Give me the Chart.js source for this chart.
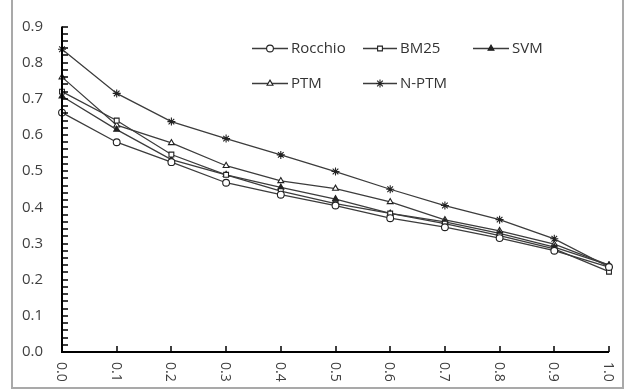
<!DOCTYPE html>
<html>
<head>
<meta charset="utf-8">
<script src="https://cdn.jsdelivr.net/npm/chart.js@4/dist/chart.umd.min.js"></script>
<style>
  html, body { margin: 0; padding: 0; background: #fff; }
  #wrap { position: relative; width: 638px; height: 391px; }
</style>
</head>
<body>
<div id="wrap"><canvas id="prChart" width="638" height="391"></canvas></div>
<script>
// recall levels on the x axis
const recallLabels = ['0.0', '0.1', '0.2', '0.3', '0.4', '0.5', '0.6', '0.7', '0.8', '0.9', '1.0'];

// precision per model
const rocchio = [0.662, 0.580, 0.525, 0.468, 0.435, 0.405, 0.370, 0.345, 0.315, 0.280, 0.235];
const bm25    = [0.720, 0.640, 0.546, 0.490, 0.445, 0.410, 0.383, 0.355, 0.322, 0.285, 0.222];
const svm     = [0.707, 0.615, 0.532, 0.490, 0.455, 0.423, 0.383, 0.360, 0.328, 0.290, 0.240];
const ptm     = [0.760, 0.627, 0.578, 0.515, 0.473, 0.452, 0.415, 0.365, 0.335, 0.298, 0.240];
const nptm    = [0.837, 0.715, 0.637, 0.590, 0.545, 0.499, 0.450, 0.405, 0.366, 0.313, 0.235];

const yMin = 0, yMax = 0.9, yStep = 0.1, yMinorStep = 0.02;

const lineColor = '#3c3c3c';

function series(label, data, style, filled) {
    return {
        label: label,
        data: data,
        borderColor: lineColor,
        borderWidth: 1.3,
        tension: 0,
        fill: false,
        pointStyle: style,
        pointRadius: style === 'star' ? 4 : 3.4,
        pointBorderColor: '#222',
        pointBorderWidth: 1.1,
        pointBackgroundColor: filled ? '#222' : '#fff'
    };
}

// legend slots: [x of line start, x of line end, text x, y]
const legendSlots = [
    [252, 288, 291, 48],
    [363, 397, 400, 48],
    [473, 509, 512, 48],
    [252, 288, 291, 83],
    [363, 397, 400, 83]
];

const decorPlugin = {
    id: 'decor',
    beforeDraw(chart) {
        const ctx = chart.ctx;
        ctx.save();
        ctx.strokeStyle = '#a9a9a9';
        ctx.lineWidth = 2;
        ctx.strokeRect(12, -6, 611, 394);
        ctx.restore();
    },
    afterDraw(chart) {
        const ctx = chart.ctx;
        const xs = chart.scales.x;
        const ys = chart.scales.y;
        const left = xs.getPixelForValue(0);
        const bottom = ys.getPixelForValue(yMin);
        const top = ys.getPixelForValue(yMax);
        const right = xs.getPixelForValue(recallLabels.length - 1);
        ctx.save();

        // axis lines
        ctx.strokeStyle = '#000';
        ctx.lineWidth = 2;
        ctx.beginPath();
        ctx.moveTo(left, top);
        ctx.lineTo(left, bottom);
        ctx.lineTo(right, bottom);
        ctx.stroke();

        // ticks pointing into the plot
        ctx.lineWidth = 1.5;
        ctx.beginPath();
        const nMinor = Math.round((yMax - yMin) / yMinorStep);
        for (let i = 0; i <= nMinor; i++) {
            const py = Math.round(ys.getPixelForValue(yMin + i * yMinorStep));
            ctx.moveTo(left, py);
            ctx.lineTo(left + 6, py);
        }
        for (let i = 0; i < recallLabels.length; i++) {
            const px = Math.round(xs.getPixelForValue(i));
            ctx.moveTo(px, bottom);
            ctx.lineTo(px, bottom - 6);
        }
        ctx.stroke();

        // x labels, rotated clockwise
        ctx.fillStyle = '#404040';
        ctx.font = '14px "Open Sans"';
        ctx.textAlign = 'left';
        ctx.textBaseline = 'middle';
        recallLabels.forEach((lab, i) => {
            const px = xs.getPixelForValue(i);
            ctx.save();
            ctx.translate(px - 1, bottom + 10);
            ctx.rotate(Math.PI / 2);
            ctx.fillText(lab, 0, 0);
            ctx.restore();
        });

        // legend inside the plot
        chart.data.datasets.forEach((ds, i) => {
            const s = legendSlots[i];
            ctx.strokeStyle = lineColor;
            ctx.lineWidth = 1.3;
            ctx.beginPath();
            ctx.moveTo(s[0], s[3] + 0.5);
            ctx.lineTo(s[1], s[3] + 0.5);
            ctx.stroke();
            ctx.fillStyle = ds.pointBackgroundColor;
            ctx.strokeStyle = ds.pointBorderColor;
            ctx.lineWidth = 1.1;
            Chart.helpers.drawPoint(ctx, { pointStyle: ds.pointStyle, radius: ds.pointRadius, rotation: 0, borderWidth: 1.1 },
                (s[0] + s[1]) / 2, s[3] + 0.5);
            ctx.fillStyle = '#333';
            ctx.font = '15px "Open Sans"';
            ctx.textAlign = 'left';
            ctx.textBaseline = 'middle';
            ctx.fillText(ds.label, s[2], s[3] + 1);
        });
        ctx.restore();
    }
};

new Chart(document.getElementById('prChart'), {
    type: 'line',
    data: {
        labels: recallLabels,
        datasets: [
            series('Rocchio', rocchio, 'circle', false),
            series('BM25', bm25, 'rect', false),
            series('SVM', svm, 'triangle', true),
            series('PTM', ptm, 'triangle', false),
            series('N-PTM', nptm, 'star', false)
        ]
    },
    options: {
        responsive: false,
        animation: false,
        layout: { padding: { top: 8, right: 29, bottom: 0, left: 0 } },
        plugins: {
            legend: { display: false },
            tooltip: { enabled: false }
        },
        scales: {
            x: {
                type: 'category',
                offset: false,
                grid: { display: false, drawTicks: false },
                border: { display: false },
                ticks: { display: false },
                afterFit(s) { s.height = 39; }
            },
            y: {
                min: yMin,
                max: yMax,
                grid: { display: false, drawTicks: false },
                border: { display: false },
                ticks: {
                    stepSize: yStep,
                    padding: 19,
                    color: '#404040',
                    font: { family: 'Open Sans', size: 15, lineHeight: 1 },
                    callback: v => v.toFixed(1)
                },
                afterFit(s) { s.width = 62; }
            }
        }
    },
    plugins: [decorPlugin]
});
</script>
</body>
</html>
